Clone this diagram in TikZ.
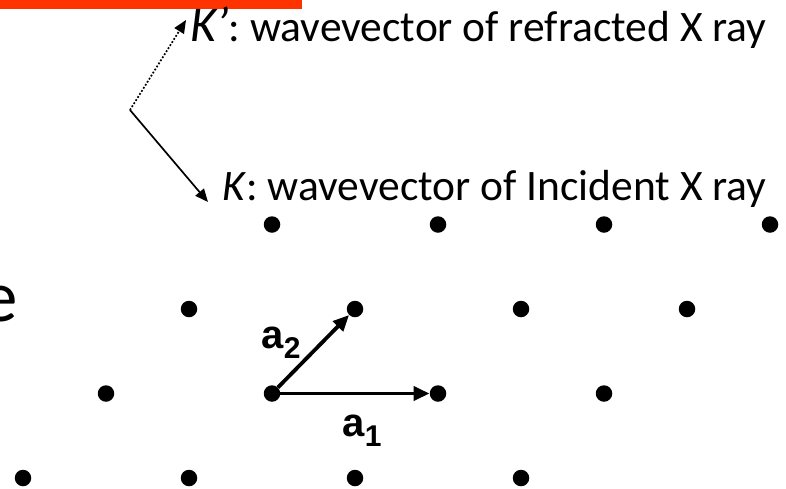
\documentclass[tikz,border=0pt]{standalone}
\usepackage{fontspec}
\setmainfont{Carlito}
\setsansfont{Liberation Sans}
\usetikzlibrary{arrows.meta}
\definecolor{barred}{RGB}{255,51,0}

\begin{document}
\begin{tikzpicture}[x=1pt, y=-1pt, line join=round,
    latdot/.style={circle, fill=black, inner sep=0pt, minimum size=16.5pt},
    basis/.style={line width=3.8pt, -{Triangle[length=16pt, width=14pt]}, shorten >=0pt},
    wave/.style={line width=1.7pt, -{Triangle[length=13pt, width=11pt]}},
    caption/.style={anchor=base west, inner sep=0pt, font=\fontsize{43.5}{50}\selectfont},
    veclabel/.style={inner sep=0pt, font=\sffamily\bfseries\fontsize{40}{46}\selectfont}]
    \useasboundingbox (0,0) rectangle (786,488);

    \fill[barred] (-5,-5) rectangle (302,9);
    \node[anchor=base east, inner sep=0pt, font=\fontsize{73}{80}\selectfont] (cut) at (18,321) {e};

    \coordinate (V) at (130,110);
    \coordinate (Kout) at (186,20);
    \coordinate (Kin) at (208,202);
    \draw[wave, dash pattern=on 1.8pt off 1.8pt] (V) -- (Kout);
    \draw[wave] (V) -- (Kin);
    \node[caption] (kref) at (190,41) {{\fontsize{50}{56}\selectfont\textit{K’}}: wavevector of refracted X ray};
    \node[caption] (kinc) at (222,200) {\textit{K}: wavevector of Incident X ray};

    \foreach \i in {-1,...,2}
      \foreach \j in {-1,...,2}
        \node[latdot] (p\i\j) at ({272+\i*166+\j*83},{393.5-\j*84.5}) {};

    \draw[basis] (p00) -- (p10);
    \draw[basis] (p00) -- (p01);
    \node[veclabel] (a2) at (281,343) {a\raisebox{-0.25em}{\fontsize{30}{34}\selectfont 2}};
    \node[veclabel] (a1) at (362,431) {a\raisebox{-0.25em}{\fontsize{30}{34}\selectfont 1}};
\end{tikzpicture}
\end{document}
